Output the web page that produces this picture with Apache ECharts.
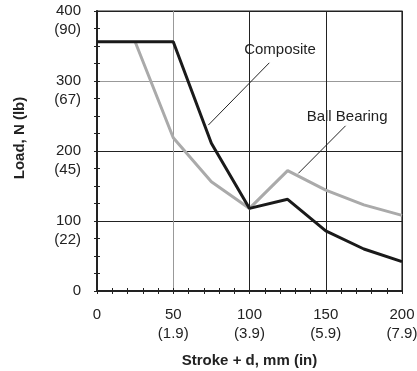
<!DOCTYPE html>
<html>
<head>
<meta charset="utf-8">
<script src="https://cdn.jsdelivr.net/npm/echarts@6/dist/echarts.min.js"></script>
<style>
  html, body { margin: 0; padding: 0; background: #fff; }
  #chart { width: 417px; height: 371px; }
</style>
</head>
<body>
<div id="chart"></div>
<script>
// Stroke positions (mm) and loads (N)
const strokes = [0, 25, 50, 75, 100, 125, 150, 175, 200];
const composite = [356, 356, 356, 211, 118, 131, 86, 60, 42];
const ballBearing = [null, 356, 219, 156, 118, 172, 144, 123, 108];

// Tick labels: metric value with imperial in brackets
const xInches = { 0: '', 50: '1.9', 100: '3.9', 150: '5.9', 200: '7.9' };
const yPounds = { 0: '', 100: '22', 200: '45', 300: '67', 400: '90' };

// Callouts: label position and arrow from/to, in data units
const callouts = [
    { name: 'Composite', text: [120, 345], from: [113, 326], to: [73, 237] },
    { name: 'Ball Bearing', text: [164, 249], from: [163, 236], to: [132, 168] }
];

const font = 'Liberation Sans, Arial, sans-serif';

function pairs(values) {
    return strokes.map((x, i) => [x, values[i]]);
}

const chart = echarts.init(document.getElementById('chart'));

const tickStyle = { color: '#222', width: 1 };

const option = {
    animation: false,
    grid: {
        left: 97, right: 15, top: 11, bottom: 80,
        outerBoundsMode: 'none', containLabel: false,
        show: true, borderColor: '#222', borderWidth: 1.2
    },
    xAxis: [{
        type: 'value',
        min: 0, max: 200, interval: 50,
        name: 'Stroke + d, mm (in)',
        nameLocation: 'middle',
        nameGap: 62,
        nameMoveOverlap: false,
        nameTextStyle: { fontFamily: font, fontSize: 15, fontWeight: 'bold', color: '#222' },
        axisLine: { show: true, lineStyle: { color: '#222', width: 2 } },
        axisTick: { show: true, length: 3, lineStyle: tickStyle },
        minorTick: { show: true, splitNumber: 5, length: 3, lineStyle: tickStyle },
        splitLine: { show: true, lineStyle: { color: ['#222', '#999', '#222', '#222', '#222'], width: 1 } },
        axisLabel: {
            margin: 14,
            fontFamily: font, fontSize: 15, color: '#222', lineHeight: 19,
            formatter: v => xInches[v] ? v + '\n(' + xInches[v] + ')' : String(v),
            verticalAlign: 'top'
        }
    }, {
        type: 'value',
        min: 0, max: 200, interval: 50,
        position: 'bottom',
        axisLine: { show: false },
        axisTick: { show: true, inside: true, length: 3, lineStyle: tickStyle },
        minorTick: { show: true, splitNumber: 5, length: 3, lineStyle: tickStyle },
        splitLine: { show: false },
        axisLabel: { show: false }
    }],
    yAxis: [{
        type: 'value',
        min: 0, max: 400, interval: 100,
        name: 'Load, N (lb)',
        nameLocation: 'middle',
        nameGap: 70,
        nameMoveOverlap: false,
        nameTextStyle: { fontFamily: font, fontSize: 15, fontWeight: 'bold', color: '#222', padding: [0, 0, 0, 26] },
        axisLine: { show: true, lineStyle: { color: '#222', width: 2 } },
        axisTick: { show: true, length: 3, lineStyle: tickStyle },
        minorTick: { show: true, splitNumber: 4, length: 3, lineStyle: tickStyle },
        splitLine: { show: true, lineStyle: { color: ['#222', '#222', '#222', '#999', '#222'], width: 1 } },
        axisLabel: {
            margin: 16,
            fontFamily: font, fontSize: 15, color: '#222', lineHeight: 19,
            // blank first line keeps the metric value centred on its tick
            formatter: v => yPounds[v] ? ' \n' + v + '\n(' + yPounds[v] + ')' : String(v)
        }
    }, {
        type: 'value',
        min: 0, max: 400, interval: 100,
        position: 'left',
        axisLine: { show: false },
        axisTick: { show: true, inside: true, length: 3, lineStyle: tickStyle },
        minorTick: { show: true, splitNumber: 4, length: 3, lineStyle: tickStyle },
        splitLine: { show: false },
        axisLabel: { show: false }
    }],
    series: [{
        name: 'Ball Bearing',
        type: 'line',
        data: pairs(ballBearing),
        showSymbol: false,
        lineStyle: { color: '#aaaaaa', width: 3 },
        z: 2
    }, {
        name: 'Composite',
        type: 'line',
        data: pairs(composite),
        showSymbol: false,
        lineStyle: { color: '#1a1a1a', width: 3 },
        z: 3,
        markLine: {
            silent: true,
            symbol: ['none', 'arrow'],
            symbolSize: [0, 9],
            lineStyle: { color: '#222', width: 1, type: 'solid' },
            label: { show: false },
            data: callouts.map(c => [{ coord: c.from }, { coord: c.to }])
        },
        markPoint: {
            silent: true,
            symbolSize: 0,
            label: { show: true, fontFamily: font, fontSize: 15, color: '#222', formatter: p => p.name },
            data: callouts.map(c => ({ name: c.name, coord: c.text }))
        }
    }]
};

chart.setOption(option);
</script>
</body>
</html>
